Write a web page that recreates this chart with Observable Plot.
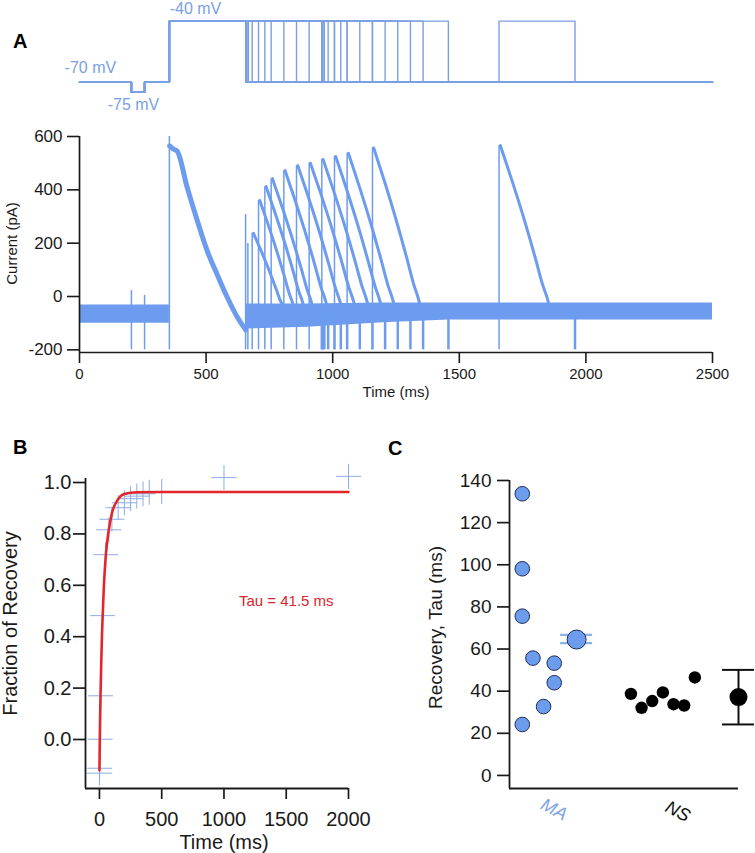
<!DOCTYPE html>
<html><head><meta charset="utf-8">
<script src="https://cdn.jsdelivr.net/npm/d3@7"></script>
<script src="https://cdn.jsdelivr.net/npm/@observablehq/plot@0.6"></script>
<style>
body{margin:0;background:#fff;}
#wrap{position:relative;width:755px;height:853px;overflow:hidden;background:#fff;}
.panel{position:absolute;}
#letters{position:absolute;left:0;top:0;pointer-events:none;}
</style></head><body><div id="wrap">
<div class="panel" id="proto" style="left:0;top:0"></div>
<div class="panel" id="current" style="left:0;top:115px"></div>
<div class="panel" id="panelB" style="left:0;top:460px"></div>
<div class="panel" id="panelC" style="left:380px;top:460px"></div>
<svg id="letters" width="755" height="853" font-family="'Liberation Sans', Arial, sans-serif" font-weight="bold" font-size="20">
<text x="13" y="48">A</text><text x="13" y="454">B</text><text x="388" y="455">C</text>
</svg>
</div>
<script>
// ---------------- DATA ----------------
// Panel A – voltage protocol
const sweepDelays = [0, 2, 5, 10, 25, 50, 75, 100, 150, 200, 250, 300, 350, 400, 500, 1000]; // recovery gap (ms)
const holdV = -70, dipV = -75, stepV = -40;
const protoEvents = [205, 257, 355, 657]; // dip start, dip end, prepulse start, prepulse end (ms)
const testDuration = 300;
const traceEnd = 2500;
const protoLabels = ["-70 mV", "-75 mV", "-40 mV"];
const protoLabelT = [43, 213, 458];
const protoLabelV = [-62.8, -81, -34];

// Panel A – current traces
const bandT   = [0, 355, 657, 900, 1200, 1460, 2500];
const bandLo  = [-100, -100, -122, -115, -98, -88, -88];
const bandHi  = [-32, -32, -28, -28, -24, -24, -24];
const bandSeg = [1, 1, 2, 2, 2, 2, 2];
const baselineI = -62;
const preT = [356, 362, 372, 386, 425, 465, 504, 544, 583, 623, 649, 656];
const preI = [565, 560, 552, 545, 410, 285, 172, 82, -2, -77, -115, -125];
const testDelay = [25, 50, 75, 100, 150, 200, 250, 300, 350, 400, 500, 1000];
const testPeak  = [237, 360, 412, 442, 472, 491, 500, 514, 525, 537, 557, 566];
const testDecay = [125, 140, 155, 165, 172, 178, 182, 185, 186, 188, 190, 200];
const decayU    = [0, 0.21, 0.48, 0.69, 0.83, 0.93, 1];
const decayFrac = [1, 0.81, 0.55, 0.33, 0.175, 0.085, 0];
const spikeT  = [205, 257, 355, 656, 665];
const spikeHi = [22, 4, 600, 307, 199];
const currentTicks = [-200, 0, 200, 400, 600];
const timeTicksA = [0, 500, 1000, 1500, 2000, 2500];

// Panel B – recovery
const recT = [0, 2, 5, 10, 25, 50, 75, 100, 150, 200, 250, 300, 350, 400, 500, 1000, 2000];
const recF = [-0.131, -0.112, 0.001, 0.170, 0.482, 0.719, 0.816, 0.857, 0.902, 0.921, 0.937, 0.947, 0.956, 0.962, 0.965, 1.019, 1.024];
const fitT = [0, 3, 6, 10, 15, 20, 25, 35, 50, 75, 100, 150, 200, 300, 500, 2000];
const fitY = [-0.12, 0.0, 0.1, 0.2, 0.31, 0.40, 0.47, 0.59, 0.71, 0.815, 0.88, 0.935, 0.955, 0.962, 0.963, 0.963];
const tauText = "Tau = 41.5 ms";
const fracTicks = [0, 0.2, 0.4, 0.6, 0.8, 1.0];
const timeTicksB = [0, 500, 1000, 1500, 2000];

// Panel C – tau per cell
const maSlot = [1.2, 1.2, 1.2, 1.2, 2.2, 3.2, 4.2, 4.2];
const maTau  = [133.7, 98.1, 75.6, 24.2, 55.7, 32.7, 53.3, 44.0];
const nsSlot = [11.4, 12.4, 13.4, 14.4, 15.4, 16.4, 17.4];
const nsTau  = [38.7, 32.1, 35.3, 39.4, 33.8, 33.2, 46.5];
const groupNames = ["MA", "NS"];
const groupLabelSlot = [4.2, 15.8];
const meanSlot = [6.3, 21.5];
const meanTau  = [64.5, 37.2];
const errLow   = [62.8, 24.2];
const errHigh  = [66.7, 50.1];
const tauTicks = [0, 20, 40, 60, 80, 100, 120, 140];

// ---------------- STYLE ----------------
const FONT = '"Liberation Sans", Arial, Helvetica, sans-serif';
const TRACE = "#6d9cef";
const PROTO = "#7aa0e4";
const AXIS = "#1a1a1a";
const baseStyle = {fontFamily: FONT, fontSize: "17px", color: AXIS, background: "transparent", overflow: "visible"};

// ---------------- PANEL A: protocol ----------------
const [dipStart, dipEnd, preStart, preEnd] = protoEvents;
const protoRows = sweepDelays.flatMap((d, k) => {
  const on = preEnd + d, off = on + testDuration;
  const pts = [[0, holdV], [dipStart, holdV], [dipStart, dipV], [dipEnd, dipV], [dipEnd, holdV],
    [preStart, holdV], [preStart, stepV], [preEnd, stepV], [preEnd, holdV], [on, holdV], [on, stepV],
    [off, stepV], [off, holdV], [traceEnd, holdV]];
  return pts.map(([t, v]) => ({sweep: k, t, v}));
});
const protoLabelRows = protoLabels.map((s, k) => ({s, t: protoLabelT[k], v: protoLabelV[k]}));

document.getElementById("proto").append(Plot.plot({
  width: 755, height: 115, marginLeft: 79, marginRight: 43, marginTop: 10.5, marginBottom: 13,
  style: baseStyle,
  x: {domain: [0, 2500], axis: null}, y: {domain: [-80, -35], axis: null},
  marks: [
    Plot.line(protoRows, {x: "t", y: "v", z: "sweep", stroke: PROTO, strokeWidth: 1.4}),
    Plot.text(protoLabelRows, {x: "t", y: "v", text: "s", fill: PROTO, fontSize: 16, textAnchor: "middle"})
  ]
}));

// ---------------- PANEL A: current ----------------
const bandRows = bandT.map((t, k) => ({t, lo: bandLo[k], hi: bandHi[k], seg: bandSeg[k]}));
const preRows = preT.map((t, k) => ({t, i: preI[k]}));
const decayRows = testDelay.flatMap((d, k) => {
  const tp = preEnd + d + 5;
  return decayU.map((u, j) => ({sweep: k, t: tp + u * testDecay[k], i: baselineI + decayFrac[j] * (testPeak[k] - baselineI)}));
});
const spikeRows = spikeT.map((t, k) => ({t, lo: -200, hi: spikeHi[k]}));
testDelay.forEach((d, k) => spikeRows.push({t: preEnd + d, lo: -200, hi: testPeak[k]}));
const notchRows = sweepDelays.map(d => ({t: preEnd + d + testDuration, lo: -200, hi: baselineI}));

document.getElementById("current").append(Plot.plot({
  width: 755, height: 290, marginLeft: 79, marginRight: 43, marginTop: 21, marginBottom: 53,
  style: baseStyle,
  x: {domain: [0, 2500]}, y: {domain: [-210, 600]},
  marks: [
    Plot.areaY(bandRows, {x: "t", y1: "lo", y2: "hi", z: "seg", fill: TRACE}),
    Plot.line(preRows, {x: "t", y: "i", stroke: TRACE, strokeWidth: 5, curve: "monotone-x"}),
    Plot.line(decayRows, {x: "t", y: "i", z: "sweep", stroke: TRACE, strokeWidth: 3, curve: "monotone-x"}),
    Plot.ruleX(spikeRows, {x: "t", y1: "lo", y2: "hi", stroke: TRACE, strokeWidth: 1.5}),
    Plot.ruleX(notchRows, {x: "t", y1: "lo", y2: "hi", stroke: TRACE, strokeWidth: 2.5}),
    Plot.ruleX([0], {stroke: AXIS, strokeWidth: 1.7}),
    Plot.ruleY([-210], {stroke: AXIS, strokeWidth: 1.7}),
    Plot.axisY({ticks: currentTicks, tickSize: 12, tickPadding: 5, tickFormat: d => String(d), fontSize: 17, strokeWidth: 1.6, label: null}),
    Plot.axisX({ticks: timeTicksA, tickSize: 11, tickPadding: 5, tickFormat: d => String(d), fontSize: 15, strokeWidth: 1.6, label: null}),
    Plot.text(["Time (ms)"], {frameAnchor: "bottom", dx: 0, dy: 40, fontSize: 15, lineAnchor: "middle", fill: AXIS}),
    Plot.text(["Current (pA)"], {frameAnchor: "left", dx: -67, dy: -1, rotate: -90, fontSize: 15, textAnchor: "middle", lineAnchor: "middle", fill: AXIS})
  ]
}));

// ---------------- PANEL B ----------------
const thinPlus = {draw(ctx, size) {
  const r = Math.sqrt(size / Math.PI);
  ctx.moveTo(-r, 0); ctx.lineTo(r, 0); ctx.moveTo(0, -r); ctx.lineTo(0, r);
}};
const recRows = recT.map((t, k) => ({t, f: recF[k]}));
const fitRows = fitT.map((t, k) => ({t, f: fitY[k]}));

document.getElementById("panelB").append(Plot.plot({
  width: 380, height: 393, marginLeft: 85, marginRight: 32, marginTop: 18, marginBottom: 65,
  style: {...baseStyle, fontSize: "20px"},
  x: {domain: [-112, 2000]}, y: {domain: [-0.1907, 1.0156]},
  marks: [
    Plot.dot(recRows, {x: "t", y: "f", symbol: thinPlus, r: 12.5, stroke: "#8cade2", fill: "none", strokeWidth: 1}),
    Plot.line(fitRows, {x: "t", y: "f", stroke: "#e3262b", strokeWidth: 2.6, curve: "monotone-x"}),
    Plot.text([tauText], {x: 1500, y: 0.54, fill: "#d8262b", fontSize: 15, textAnchor: "middle"}),
    Plot.ruleX([-112], {stroke: AXIS, strokeWidth: 1.8}),
    Plot.ruleY([-0.1907], {stroke: AXIS, strokeWidth: 1.8}),
    Plot.axisY({ticks: fracTicks, tickSize: 12, tickPadding: 2, tickFormat: d => d.toFixed(1), fontSize: 20, strokeWidth: 1.7, label: null}),
    Plot.axisX({ticks: timeTicksB, tickSize: 11, tickPadding: 12, tickFormat: d => String(d), fontSize: 20, strokeWidth: 1.7, label: null}),
    Plot.text(["Time (ms)"], {frameAnchor: "bottom", dx: 7, dy: 54, fontSize: 20, lineAnchor: "middle", fill: AXIS}),
    Plot.text(["Fraction of Recovery"], {frameAnchor: "left", dx: -75, dy: -10, rotate: -90, fontSize: 20, textAnchor: "middle", lineAnchor: "middle", fill: AXIS})
  ]
}));

// ---------------- PANEL C ----------------
const maRows = maSlot.map((s, k) => ({s, v: maTau[k]}));
const nsRows = nsSlot.map((s, k) => ({s, v: nsTau[k]}));
const meanRows = groupNames.map((g, k) => ({g, s: meanSlot[k], v: meanTau[k], lo: errLow[k], hi: errHigh[k]}));
const capRows = meanRows.flatMap(d => [{g: d.g, v: d.lo, a: d.s - 1.5, b: d.s + 1.5}, {g: d.g, v: d.hi, a: d.s - 1.5, b: d.s + 1.5}]);
const MAFILL = "#6c9cec", MASTROKE = "#1f2d58", MAERR = "#8fb1ea";

document.getElementById("panelC").append(Plot.plot({
  width: 375, height: 393, marginLeft: 129, marginRight: 17, marginTop: 20, marginBottom: 65,
  style: {...baseStyle, fontSize: "19px"},
  x: {domain: [0, 21.5], axis: null}, y: {domain: [-6.2, 140]},
  marks: [
    Plot.ruleX([0], {stroke: AXIS, strokeWidth: 1.8}),
    Plot.ruleY([-6.2], {stroke: AXIS, strokeWidth: 1.8}),
    Plot.axisY({ticks: tauTicks, tickSize: 12, tickPadding: 6, tickFormat: d => String(d), fontSize: 19, strokeWidth: 1.7, label: null}),
    // error bars
    Plot.ruleX(meanRows.filter(d => d.g === "NS"), {x: "s", y1: "lo", y2: "hi", stroke: "#111", strokeWidth: 2}),
    Plot.ruleY(capRows.filter(d => d.g === "NS"), {y: "v", x1: "a", x2: "b", stroke: "#111", strokeWidth: 2}),
    Plot.ruleY(capRows.filter(d => d.g === "MA"), {y: "v", x1: "a", x2: "b", stroke: MAERR, strokeWidth: 2.2}),
    // points
    Plot.dot(maRows, {x: "s", y: "v", r: 7.3, fill: MAFILL, stroke: MASTROKE, strokeWidth: 1}),
    Plot.dot(nsRows, {x: "s", y: "v", r: 6.2, fill: "#000"}),
    Plot.dot(meanRows.filter(d => d.g === "MA"), {x: "s", y: "v", r: 9.5, fill: MAFILL, stroke: MASTROKE, strokeWidth: 1}),
    Plot.dot(meanRows.filter(d => d.g === "NS"), {x: "s", y: "v", r: 9, fill: "#000"}),
    // group labels
    Plot.text([groupNames[0]], {x: groupLabelSlot[0], frameAnchor: "bottom", dy: 21, rotate: 28, fontSize: 18, fontStyle: "italic", fill: "#7ea3e6", textAnchor: "middle", lineAnchor: "middle"}),
    Plot.text([groupNames[1]], {x: groupLabelSlot[1], frameAnchor: "bottom", dy: 23, rotate: 28, fontSize: 18, fontStyle: "italic", fill: "#111", textAnchor: "middle", lineAnchor: "middle"}),
    Plot.text(["Recovery, Tau (ms)"], {frameAnchor: "left", dx: -74, dy: -7, rotate: -90, fontSize: 19, textAnchor: "middle", lineAnchor: "middle", fill: AXIS})
  ]
}));
</script></body></html>
